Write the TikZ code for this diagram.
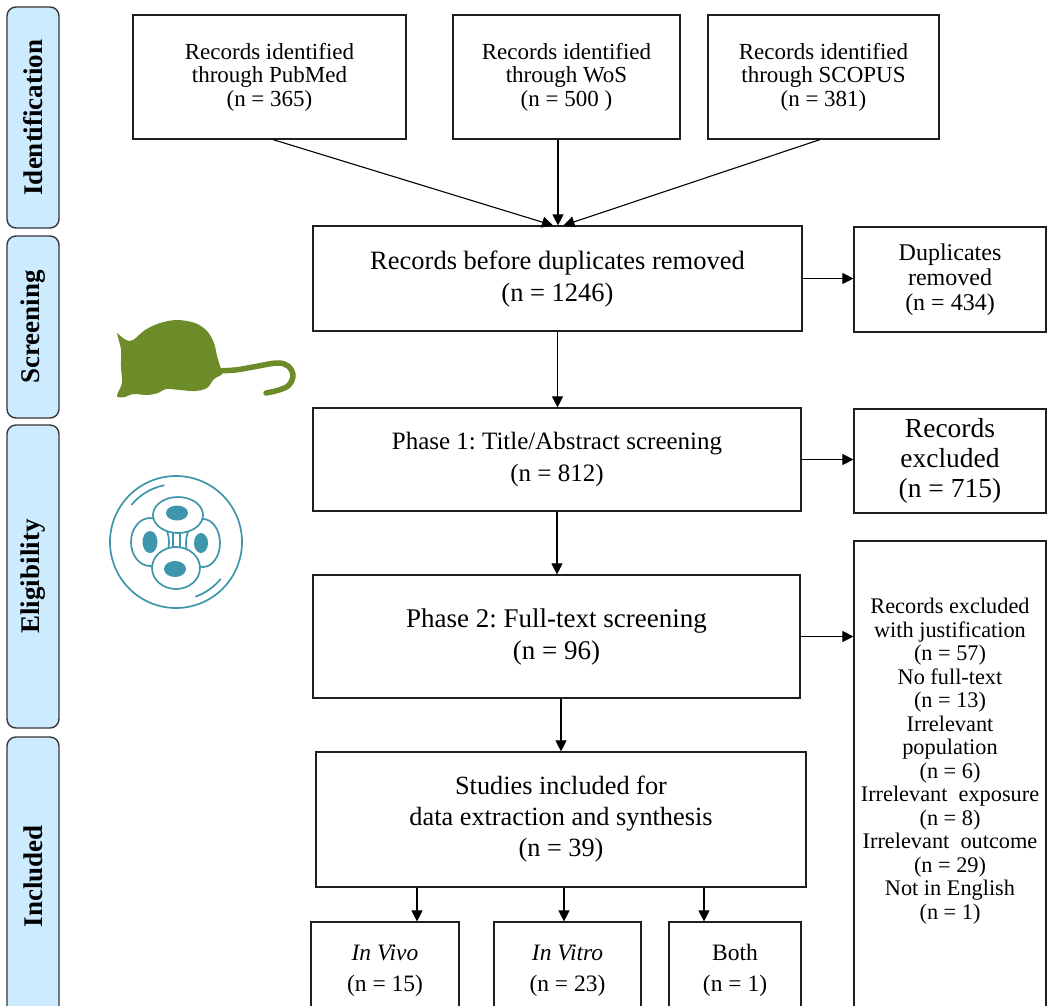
\documentclass[tikz,border=0pt]{standalone}
\usepackage{fontspec}
\setmainfont{Liberation Serif}
\usetikzlibrary{arrows.meta}
\definecolor{barfill}{RGB}{205,235,255}
\definecolor{barline}{RGB}{55,55,55}
\definecolor{mousegreen}{RGB}{108,140,42}
\definecolor{cellteal}{RGB}{62,150,172}
\tikzset{
  box/.style={draw=black!88, line width=1.2pt, rectangle, inner sep=0pt, align=center, fill=white},
  phasebar/.style={draw=barline, fill=barfill, line width=1.4pt, rounded corners=9pt,
    rotate=90, inner sep=0pt, minimum height=52pt,
    font=\fontsize{27}{27}\selectfont\bfseries},
  arr/.style={draw=black, line width=1.1pt, -{Triangle[length=11pt,width=11pt]}},
  srcfont/.style={font=\fontsize{23}{23.5}\selectfont},
  dupmainfont/.style={font=\fontsize{26.5}{32}\selectfont},
  phaseonefont/.style={font=\fontsize{25}{32}\selectfont},
  phasetwofont/.style={font=\fontsize{27}{32}\selectfont},
  incfont/.style={font=\fontsize{26.3}{31}\selectfont},
  dupfont/.style={font=\fontsize{24}{25}\selectfont},
  excfont/.style={font=\fontsize{27.5}{30}\selectfont},
  listfont/.style={font=\fontsize{22.3}{23.5}\selectfont},
  subfont/.style={font=\fontsize{23.5}{31}\selectfont},
}
\frenchspacing
\begin{document}
\begin{tikzpicture}[x=1pt,y=-1pt]
\useasboundingbox (0,0) rectangle (1048,1005);
\clip (0,0) rectangle (1048,1005);
\fill[white] (0,0) rectangle (1048,1005);

% stage bars on the left
\node[phasebar, minimum width=221pt] (barid)  at (33,117.5) {Identification};
\node[phasebar, minimum width=182pt] (barscr) at (33,327)   {Screening};
\node[phasebar, minimum width=303pt] (barel)  at (33,576.5) {Eligibility};
\node[phasebar, minimum width=278pt] (barinc) at (33,876)   {Included};

% sources
\node[box, srcfont, minimum width=273pt, minimum height=124pt] (pubmed) at (269.5,77)
  {Records identified\\through PubMed\\(n = 365)};
\node[box, srcfont, minimum width=227pt, minimum height=124pt] (wos) at (566.5,77)
  {Records identified\\through WoS\\(n = 500 )};
\node[box, srcfont, minimum width=231pt, minimum height=124pt] (scopus) at (823.5,77)
  {Records identified\\through SCOPUS\\(n = 381)};

% main flow
\node[box, dupmainfont, minimum width=489pt, minimum height=105pt] (dup) at (557.5,278.5)
  {Records before duplicates removed\\(n = 1246)};
\node[box, dupfont, minimum width=192pt, minimum height=105pt] (duprm) at (950,279.5)
  {Duplicates\\removed\\(n = 434)};
\node[box, phaseonefont, minimum width=488pt, minimum height=103pt] (ph1) at (557,459.5)
  {Phase 1: Title/Abstract screening\\(n = 812)};
\node[box, excfont, minimum width=192pt, minimum height=104pt] (exc1) at (950,461)
  {Records\\excluded\\(n = 715)};
\node[box, phasetwofont, minimum width=487pt, minimum height=123pt] (ph2) at (556.5,636.5)
  {Phase 2: Full-text screening\\(n = 96)};
\node[box, minimum width=192pt, minimum height=480pt] (exc2) at (950,781) {};
\node[listfont, align=center, inner sep=0pt] (exc2txt) at (950,761)
  {Records excluded\\with justification\\(n = 57)\\No full-text\\(n = 13)\\Irrelevant\\population\\(n = 6)\\Irrelevant\ \ exposure\\(n = 8)\\Irrelevant\ \ outcome\\(n = 29)\\Not in English\\(n = 1)};
\node[box, incfont, minimum width=490pt, minimum height=135pt] (inc) at (561,819.5)
  {Studies included for\\data extraction and synthesis\\(n = 39)};
\node[box, subfont, minimum width=148pt, minimum height=97pt] (vivo) at (385,970.5)
  {\textit{In Vivo}\\(n = 15)};
\node[box, subfont, minimum width=147pt, minimum height=97pt] (vitro) at (567.5,970.5)
  {\textit{In Vitro}\\(n = 23)};
\node[box, subfont, minimum width=132pt, minimum height=97pt] (both) at (735,970.5)
  {Both\\(n = 1)};

% connectors
\draw[arr] ([xshift=3.5pt]pubmed.south) -- ([xshift=-4.5pt]dup.north);
\draw[arr] ([xshift=-8.5pt]wos.south) -- ([xshift=0.5pt]dup.north);
\draw[arr] ([xshift=-3.5pt]scopus.south) -- ([xshift=6pt]dup.north);
\draw[arr] (dup.east) -- (dup.east -| duprm.west);
\draw[arr] (dup.south) -- (dup.south |- ph1.north);
\draw[arr] (ph1.east) -- (ph1.east -| exc1.west);
\draw[arr] (ph1.south) -- (ph1.south |- ph2.north);
\draw[arr] (ph2.east) -- (ph2.east -| exc2.west);
\draw[arr] (ph2.south -| inc.north) -- (inc.north);
\draw[arr] ([xshift=32pt]vivo.north |- inc.south) -- ([xshift=32pt]vivo.north);
\draw[arr] ([xshift=-3.5pt]vitro.north |- inc.south) -- ([xshift=-3.5pt]vitro.north);
\draw[arr] ([xshift=-31pt]both.north |- inc.south) -- ([xshift=-31pt]both.north);

% mouse silhouette
\fill[mousegreen] plot[smooth, tension=0.55] coordinates {
  (117,333) (126,340) (133,340) (145,330) (160,323) (177,320) (195,323)
  (207,331) (214,343) (217,356) (220,366) (222,374) (214,379) (207,388)
  (195,391) (180,390) (166,389) (158,393) (147,395) (133,394) (125,397) (117,396)
  (122,383) (121,367) (121,350) (119,341)} -- cycle;
\draw[mousegreen, line width=5.5pt, line cap=round] plot[smooth, tension=0.6] coordinates {
  (214,371) (235,370) (253,367) (277,363) (288,366) (293,375) (289,385) (279,390) (266,393)};

% cell culture dish
\begin{scope}[cellteal, line width=1.7pt]
  \draw[fill=white] (176,542) circle (66);
  \draw[line cap=round] (176,542) ++(-102:58) arc (-102:-140:58);
  \draw[line cap=round] (176,542) ++(40:58) arc (40:70:58);
  \draw[fill=white] (150,542) ellipse (19 and 24);
  \draw[fill=white] (203,543) ellipse (17 and 24);
  \draw[fill=white] (178,515) ellipse (25 and 18);
  \draw[fill=white] (176,568) ellipse (24 and 21);
  \fill (177,513) ellipse (11 and 7.5);
  \fill (150,542) ellipse (7.5 and 11);
  \fill (201,543) ellipse (7 and 10);
  \fill (175,569) ellipse (11 and 8);
  \draw[line width=1.2pt] (173,533) -- (173,547) (180,533) -- (180,547);
\end{scope}
\end{tikzpicture}
\end{document}
